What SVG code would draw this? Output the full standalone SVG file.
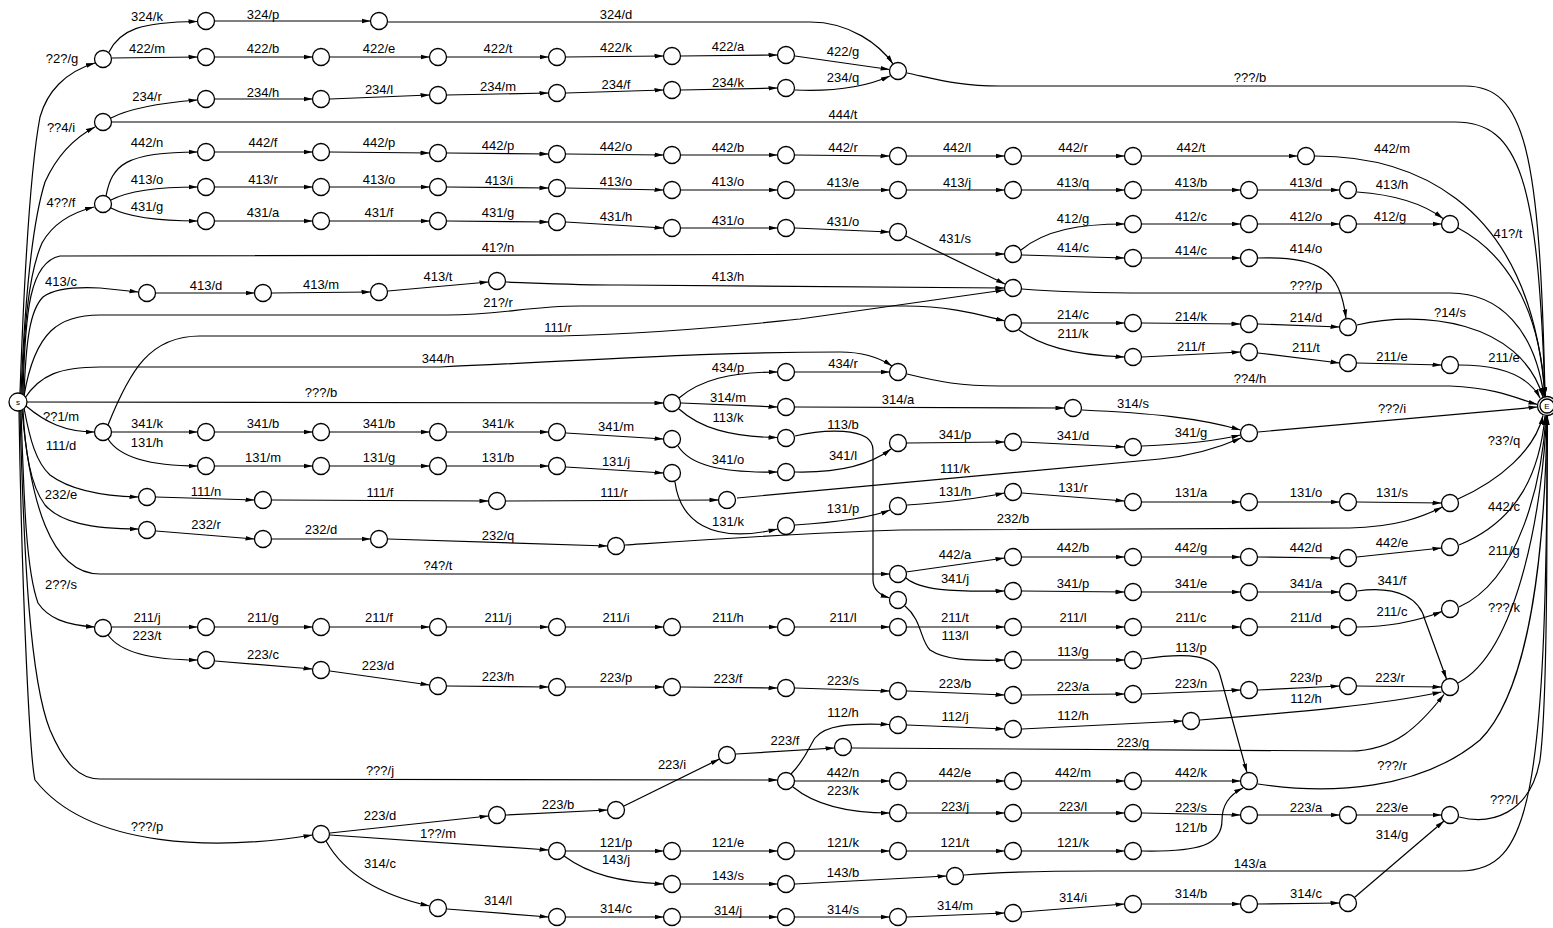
<svg xmlns="http://www.w3.org/2000/svg" width="1553" height="928" viewBox="0 0 1553 928">
<style>
.e{fill:none;stroke:#000;stroke-width:1.2;marker-end:url(#ah)}
.n{fill:#fff;stroke:#000;stroke-width:1.3}
text{font-family:"Liberation Sans",Arial,sans-serif;font-size:13px;text-anchor:middle;fill:#000}
.sm{font-size:8px}
</style>
<defs>
<marker id="ah" viewBox="0 0 9 6" refX="9" refY="3" markerWidth="9" markerHeight="6" markerUnits="userSpaceOnUse" orient="auto"><path d="M0,0.7 L9,3 L0,5.3 z" fill="#000"/></marker>
</defs>
<rect width="1553" height="928" fill="#fff"/>
<g id="connectors">
<path class="e" d="M20 393 C24 280,30 170,40 117 C47 92,65 72,95 63"/>
<path class="e" d="M21 393 C24 320,30 230,45 182 C55 160,70 140,95 127"/>
<path class="e" d="M22 394 C24 330,28 275,42 243 C52 225,70 213,94 207"/>
<path class="e" d="M23 394 C25 310,30 262,60 256 L1004.5 254"/>
<path class="e" d="M24 395 C26 340,30 310,43 297 C55 288,80 287,100 288 L138.5 292"/>
<path class="e" d="M24 396 C35 330,60 315,100 315 L447 315 C500 315,530 306,580 306 L905 306 C950 306,980 315,1005 321"/>
<path class="e" d="M108 425 C130 370,150 336,200 336 L560 336 C680 333,760 323,800 319 L1004.5 290"/>
<path class="e" d="M25 398 C40 375,60 367,100 367 L440 367 C600 360,700 352,840 352 C865 352,880 358,892 366"/>
<path class="e" d="M27 402 L663.5 403"/>
<path class="e" d="M26 406 C45 422,65 432,94.5 432"/>
<path class="e" d="M24 408 C30 440,36 462,50 475 C70 490,100 496,138.5 497"/>
<path class="e" d="M23 410 C25 450,30 485,45 505 C60 522,90 529,138.5 529"/>
<path class="e" d="M22 410 C30 500,50 574,100 574 L889.5 574"/>
<path class="e" d="M21 411 C24 500,26 570,38 603 C48 618,65 625,95 627"/>
<path class="e" d="M20 411 C24 560,30 680,50 730 C65 765,80 779,100 779 L777.5 780"/>
<path class="e" d="M19 411 C22 600,30 760,35 780 C90 850,220 850,312.5 835"/>
<path class="e" d="M907 73 C940 80,960 86,1000 86 L1465 86 C1525 86,1540 150,1545 396.5"/>
<path class="e" d="M112 122 L1455 122 C1520 122,1538 180,1545 396.5"/>
<path class="e" d="M1315 156 C1400 156,1530 190,1545 396.5"/>
<path class="e" d="M1458 228 C1500 250,1540 300,1545 396.5"/>
<path class="e" d="M1022 289 C1060 292,1100 293,1150 293 L1450 293 C1500 293,1535 330,1544 396.5"/>
<path class="e" d="M1357 325 C1420 310,1520 320,1543 397"/>
<path class="e" d="M1459 365 C1500 365,1528 375,1540 398"/>
<path class="e" d="M907 374 C940 382,960 386,1000 386 L1450 386 C1500 388,1520 400,1537.5 404.5"/>
<path class="e" d="M1258 432 L1537.5 407"/>
<path class="e" d="M1458 499 C1500 480,1535 450,1543 415.5"/>
<path class="e" d="M1459 545 C1520 520,1540 470,1545 416"/>
<path class="e" d="M1459 607 C1520 580,1542 480,1546 416"/>
<path class="e" d="M1458 683 C1520 650,1543 500,1546.5 416"/>
<path class="e" d="M1258 784 C1330 795,1420 790,1480 740 C1530 690,1545 550,1547 416"/>
<path class="e" d="M1459 817 C1490 825,1530 815,1540 760 C1548 700,1547 500,1547 416"/>
<path class="e" d="M964 875 C1000 872,1050 871,1100 871 L1460 871 C1530 871,1546 800,1547.5 416"/>
<path class="e" d="M109 52 C120 30,140 22,197.5 21.5"/>
<path class="e" d="M215 21 L370.5 21"/>
<path class="e" d="M388 22 L810 22 C850 22,880 45,893 64"/>
<path class="e" d="M112 58 L197.5 57"/>
<path class="e" d="M215 57 L312.5 57"/>
<path class="e" d="M330 57 L429.5 57"/>
<path class="e" d="M447 57 L548.5 57"/>
<path class="e" d="M566 57 L663.5 56"/>
<path class="e" d="M681 56 L777.5 55"/>
<path class="e" d="M795 56 L889.6 69.5"/>
<path class="e" d="M111 118 C130 108,160 103,197.5 100"/>
<path class="e" d="M215 99 L312.5 99"/>
<path class="e" d="M330 99 L429.5 95"/>
<path class="e" d="M447 95 L548.5 93"/>
<path class="e" d="M566 93 L663.5 90"/>
<path class="e" d="M681 90 L777.5 88"/>
<path class="e" d="M795 90 C840 92,870 85,890 76"/>
<path class="e" d="M106 196 C112 165,125 152,197.5 152"/>
<path class="e" d="M111 200 C130 190,160 187,197.5 187"/>
<path class="e" d="M111 208 C130 218,160 221,197.5 221"/>
<path class="e" d="M215 152 L312.5 152"/>
<path class="e" d="M330 152 L429.5 153"/>
<path class="e" d="M447 153 L548.5 154"/>
<path class="e" d="M566 154 L663.5 155"/>
<path class="e" d="M681 155 L777.5 155"/>
<path class="e" d="M795 155 L889.5 156"/>
<path class="e" d="M907 156 L1004.5 156"/>
<path class="e" d="M1022 156 L1124.5 156"/>
<path class="e" d="M1142 156 L1297.5 156"/>
<path class="e" d="M215 187 L312.5 187"/>
<path class="e" d="M330 187 L429.5 187"/>
<path class="e" d="M447 187 L548.5 188"/>
<path class="e" d="M566 188 L663.5 190"/>
<path class="e" d="M681 190 L777.5 190"/>
<path class="e" d="M795 190 L889.5 190"/>
<path class="e" d="M907 190 L1004.5 190"/>
<path class="e" d="M1022 190 L1124.5 190"/>
<path class="e" d="M1142 190 L1240.5 190"/>
<path class="e" d="M1258 190 L1339.5 190"/>
<path class="e" d="M1357 192 C1400 195,1425 205,1443 218.5"/>
<path class="e" d="M215 221 L312.5 221"/>
<path class="e" d="M330 221 L429.5 221"/>
<path class="e" d="M447 221 L548.5 222"/>
<path class="e" d="M566 222 L663.5 228"/>
<path class="e" d="M681 228 L777.5 228"/>
<path class="e" d="M795 228 L889.5 232"/>
<path class="e" d="M906 236 L1005 284"/>
<path class="e" d="M1021 250 C1045 230,1080 224,1124.5 224"/>
<path class="e" d="M1142 224 L1240.5 224"/>
<path class="e" d="M1258 224 L1339.5 224"/>
<path class="e" d="M1357 224 L1441.5 224"/>
<path class="e" d="M1022 255 L1124.5 258"/>
<path class="e" d="M1142 258 L1240.5 258"/>
<path class="e" d="M1258 258 C1320 256,1340 270,1346 318.5"/>
<path class="e" d="M156 293 L254.5 293"/>
<path class="e" d="M272 293 L370.5 292"/>
<path class="e" d="M388 291 L488.5 282"/>
<path class="e" d="M506 282 C560 284,580 285,620 285 L1004.5 288"/>
<path class="e" d="M1022 323 L1124.5 323"/>
<path class="e" d="M1142 323 L1240.5 324"/>
<path class="e" d="M1258 324 L1339.5 327"/>
<path class="e" d="M1019 330 C1040 345,1070 355,1124.5 357"/>
<path class="e" d="M1142 357 L1240.5 352"/>
<path class="e" d="M1258 353 L1339.5 363"/>
<path class="e" d="M1357 363 L1441.5 365"/>
<path class="e" d="M679 398 C700 380,730 372,777.5 372"/>
<path class="e" d="M795 372 L889.5 372"/>
<path class="e" d="M681 403 L777.5 407"/>
<path class="e" d="M795 407 L1064.5 408"/>
<path class="e" d="M1082 410 C1150 413,1200 418,1240.5 430"/>
<path class="e" d="M679 409 C700 428,730 437,777.5 437.5"/>
<path class="e" d="M795 436 C820 430,873 425,873 450 L873 580 C873 590,880 595,889.5 598"/>
<path class="e" d="M112 432 L197.5 432"/>
<path class="e" d="M215 432 L312.5 432"/>
<path class="e" d="M330 432 L429.5 432"/>
<path class="e" d="M447 432 L548.5 432"/>
<path class="e" d="M566 433 L663.5 439"/>
<path class="e" d="M678 446 C690 465,720 473,777.5 472"/>
<path class="e" d="M795 472 C840 473,870 465,891 449"/>
<path class="e" d="M907 443 L1004.5 442"/>
<path class="e" d="M1022 442 L1124.5 447"/>
<path class="e" d="M1142 446 C1190 444,1220 440,1240.5 435"/>
<path class="e" d="M108 439 C120 458,150 466,197.5 466"/>
<path class="e" d="M215 466 L312.5 466"/>
<path class="e" d="M330 466 L429.5 466"/>
<path class="e" d="M447 466 L548.5 466"/>
<path class="e" d="M566 467 L663.5 473"/>
<path class="e" d="M675 482 C680 520,710 545,777.5 529"/>
<path class="e" d="M795 525 C840 522,870 518,890 510"/>
<path class="e" d="M907 505 C950 502,980 498,1004.5 493"/>
<path class="e" d="M1022 493 L1124.5 501"/>
<path class="e" d="M1142 502 L1240.5 502"/>
<path class="e" d="M1258 502 L1339.5 502"/>
<path class="e" d="M1357 502 L1441.5 503"/>
<path class="e" d="M156 497 L254.5 500"/>
<path class="e" d="M272 500 L488.5 501"/>
<path class="e" d="M506 501 L718.5 500"/>
<path class="e" d="M737 498 L1160 459 C1200 455,1225 445,1241 438"/>
<path class="e" d="M156 531 L254.5 539"/>
<path class="e" d="M272 539 L370.5 539"/>
<path class="e" d="M388 539 L607.5 546"/>
<path class="e" d="M625 545 C700 540,800 533,900 530 L1350 528 C1395 527,1420 518,1442.5 507"/>
<path class="e" d="M906 572 L1004.5 558"/>
<path class="e" d="M1022 557 L1124.5 557"/>
<path class="e" d="M1142 557 L1240.5 557"/>
<path class="e" d="M1258 557 L1339.5 558"/>
<path class="e" d="M1357 557 L1441.5 548"/>
<path class="e" d="M906 578 C920 590,950 592,1004.5 591"/>
<path class="e" d="M1022 591 L1124.5 592"/>
<path class="e" d="M1142 592 L1240.5 592"/>
<path class="e" d="M1258 592 L1339.5 592"/>
<path class="e" d="M1357 591 C1400 585,1420 600,1425 620 L1446.5 679"/>
<path class="e" d="M112 627 L197.5 627"/>
<path class="e" d="M215 627 L312.5 627"/>
<path class="e" d="M330 627 L429.5 627"/>
<path class="e" d="M447 627 L548.5 627"/>
<path class="e" d="M566 627 L663.5 627"/>
<path class="e" d="M681 627 L777.5 627"/>
<path class="e" d="M795 627 L889.5 627"/>
<path class="e" d="M907 627 L1004.5 627"/>
<path class="e" d="M1022 627 L1124.5 627"/>
<path class="e" d="M1142 627 L1240.5 627"/>
<path class="e" d="M1258 627 L1339.5 627"/>
<path class="e" d="M1357 627 C1390 627,1420 620,1442 611.5"/>
<path class="e" d="M905 606 C922 620,920 640,930 650 C945 660,970 661,1004.5 660"/>
<path class="e" d="M1022 660 L1124.5 660"/>
<path class="e" d="M1142 659 C1190 652,1215 655,1220 675 L1247 772.5"/>
<path class="e" d="M108 635 C120 652,150 660,197.5 660"/>
<path class="e" d="M215 661 L312.5 669"/>
<path class="e" d="M330 671 L429.5 685"/>
<path class="e" d="M447 686 L548.5 687"/>
<path class="e" d="M566 687 L663.5 687"/>
<path class="e" d="M681 687 L777.5 688"/>
<path class="e" d="M795 688 L889.5 691"/>
<path class="e" d="M907 691 L1004.5 695"/>
<path class="e" d="M1022 695 L1124.5 694"/>
<path class="e" d="M1142 694 L1240.5 690"/>
<path class="e" d="M1258 690 L1339.5 686"/>
<path class="e" d="M1357 686 L1441.5 687"/>
<path class="e" d="M791 774 C805 760,810 745,815 738 C825 725,850 723,889.5 724.5"/>
<path class="e" d="M907 725 L1004.5 729"/>
<path class="e" d="M1022 729 L1182.5 721"/>
<path class="e" d="M1200 720 C1300 712,1380 705,1441.5 692"/>
<path class="e" d="M736 754 L834.5 748"/>
<path class="e" d="M852 748 L1350 751 C1395 751,1420 725,1444 694.5"/>
<path class="e" d="M795 781 L889.5 781"/>
<path class="e" d="M907 781 L1004.5 781"/>
<path class="e" d="M1022 781 L1124.5 781"/>
<path class="e" d="M1142 781 L1240.5 781"/>
<path class="e" d="M793 787 C815 805,850 813,889.5 813"/>
<path class="e" d="M907 813 L1004.5 813"/>
<path class="e" d="M1022 813 L1124.5 813"/>
<path class="e" d="M1142 813 L1240.5 815"/>
<path class="e" d="M1258 815 L1339.5 815"/>
<path class="e" d="M1357 815 L1441.5 815"/>
<path class="e" d="M330 833 L488.5 816"/>
<path class="e" d="M506 815 L607.5 810"/>
<path class="e" d="M624 806 L719.5 759"/>
<path class="e" d="M330 835 L548.5 850"/>
<path class="e" d="M566 851 L663.5 851"/>
<path class="e" d="M681 851 L777.5 851"/>
<path class="e" d="M795 851 L889.5 851"/>
<path class="e" d="M907 851 L1004.5 851"/>
<path class="e" d="M1022 851 L1124.5 851"/>
<path class="e" d="M1142 851 C1200 852,1222 845,1222 820 C1222 800,1235 792,1243 788"/>
<path class="e" d="M564 856 C590 875,620 882,663.5 884"/>
<path class="e" d="M681 884 L777.5 884"/>
<path class="e" d="M795 884 L946.5 876"/>
<path class="e" d="M326 841 C345 875,380 895,429.5 906"/>
<path class="e" d="M447 909 L548.5 917"/>
<path class="e" d="M566 917 L663.5 917"/>
<path class="e" d="M681 917 L777.5 917"/>
<path class="e" d="M795 917 L889.5 917"/>
<path class="e" d="M907 917 L1004.5 913"/>
<path class="e" d="M1022 912 L1124.5 904"/>
<path class="e" d="M1142 904 L1240.5 904"/>
<path class="e" d="M1258 904 L1339.5 903"/>
<path class="e" d="M1355 897 L1444 821"/>
</g>
<g id="edge-labels">
<text x="62" y="63">?2?/g</text>
<text x="147" y="21">324/k</text>
<text x="263" y="19">324/p</text>
<text x="616" y="19">324/d</text>
<text x="147" y="53">422/m</text>
<text x="263" y="53">422/b</text>
<text x="379" y="53">422/e</text>
<text x="498" y="53">422/t</text>
<text x="616" y="52">422/k</text>
<text x="728" y="51">422/a</text>
<text x="843" y="56">422/g</text>
<text x="843" y="82">234/q</text>
<text x="147" y="101">234/r</text>
<text x="263" y="97">234/h</text>
<text x="379" y="94">234/l</text>
<text x="498" y="91">234/m</text>
<text x="616" y="89">234/f</text>
<text x="728" y="87">234/k</text>
<text x="61" y="132">??4/i</text>
<text x="843" y="119">444/t</text>
<text x="1250" y="82">???/b</text>
<text x="147" y="147">442/n</text>
<text x="263" y="147">442/f</text>
<text x="379" y="147">442/p</text>
<text x="498" y="150">442/p</text>
<text x="616" y="151">442/o</text>
<text x="728" y="152">442/b</text>
<text x="843" y="152">442/r</text>
<text x="957" y="152">442/l</text>
<text x="1073" y="152">442/r</text>
<text x="1191" y="152">442/t</text>
<text x="1392" y="153">442/m</text>
<text x="61" y="207">4??/f</text>
<text x="147" y="184">413/o</text>
<text x="263" y="184">413/r</text>
<text x="379" y="184">413/o</text>
<text x="499" y="185">413/i</text>
<text x="616" y="186">413/o</text>
<text x="728" y="186">413/o</text>
<text x="843" y="187">413/e</text>
<text x="957" y="187">413/j</text>
<text x="1073" y="187">413/q</text>
<text x="1191" y="187">413/b</text>
<text x="1306" y="187">413/d</text>
<text x="1392" y="189">413/h</text>
<text x="147" y="211">431/g</text>
<text x="263" y="217">431/a</text>
<text x="379" y="217">431/f</text>
<text x="498" y="217">431/g</text>
<text x="616" y="221">431/h</text>
<text x="728" y="225">431/o</text>
<text x="843" y="226">431/o</text>
<text x="955" y="243">431/s</text>
<text x="498" y="252">41?/n</text>
<text x="1073" y="223">412/g</text>
<text x="1191" y="221">412/c</text>
<text x="1306" y="221">412/o</text>
<text x="1390" y="221">412/g</text>
<text x="1508" y="238">41?/t</text>
<text x="1073" y="252">414/c</text>
<text x="1191" y="255">414/c</text>
<text x="1306" y="253">414/o</text>
<text x="1306" y="290">???/p</text>
<text x="61" y="286">413/c</text>
<text x="206" y="290">413/d</text>
<text x="321" y="289">413/m</text>
<text x="438" y="281">413/t</text>
<text x="728" y="281">413/h</text>
<text x="498" y="307">21?/r</text>
<text x="1073" y="319">214/c</text>
<text x="1073" y="338">211/k</text>
<text x="1191" y="321">214/k</text>
<text x="1306" y="322">214/d</text>
<text x="1450" y="317">?14/s</text>
<text x="1191" y="351">211/f</text>
<text x="1306" y="352">211/t</text>
<text x="1392" y="361">211/e</text>
<text x="1504" y="362">211/e</text>
<text x="558" y="332">111/r</text>
<text x="438" y="363">344/h</text>
<text x="1250" y="383">??4/h</text>
<text x="728" y="372">434/p</text>
<text x="843" y="368">434/r</text>
<text x="321" y="397">???/b</text>
<text x="728" y="402">314/m</text>
<text x="898" y="404">314/a</text>
<text x="1133" y="408">314/s</text>
<text x="728" y="422">113/k</text>
<text x="843" y="429">113/b</text>
<text x="1392" y="413">???/i</text>
<text x="61" y="421">??1/m</text>
<text x="61" y="450">111/d</text>
<text x="147" y="428">341/k</text>
<text x="147" y="447">131/h</text>
<text x="263" y="428">341/b</text>
<text x="379" y="428">341/b</text>
<text x="498" y="428">341/k</text>
<text x="616" y="431">341/m</text>
<text x="728" y="464">341/o</text>
<text x="843" y="460">341/l</text>
<text x="955" y="439">341/p</text>
<text x="1073" y="440">341/d</text>
<text x="1191" y="437">341/g</text>
<text x="263" y="462">131/m</text>
<text x="379" y="462">131/g</text>
<text x="498" y="462">131/b</text>
<text x="616" y="466">131/j</text>
<text x="728" y="526">131/k</text>
<text x="843" y="513">131/p</text>
<text x="955" y="496">131/h</text>
<text x="1073" y="492">131/r</text>
<text x="1191" y="497">131/a</text>
<text x="1306" y="497">131/o</text>
<text x="1392" y="497">131/s</text>
<text x="1504" y="445">?3?/q</text>
<text x="206" y="496">111/n</text>
<text x="380" y="497">111/f</text>
<text x="614" y="497">111/r</text>
<text x="955" y="473">111/k</text>
<text x="61" y="499">232/e</text>
<text x="206" y="529">232/r</text>
<text x="321" y="534">232/d</text>
<text x="498" y="540">232/q</text>
<text x="1013" y="523">232/b</text>
<text x="438" y="570">?4?/t</text>
<text x="955" y="559">442/a</text>
<text x="955" y="583">341/j</text>
<text x="1073" y="552">442/b</text>
<text x="1191" y="552">442/g</text>
<text x="1306" y="552">442/d</text>
<text x="1392" y="547">442/e</text>
<text x="1504" y="511">442/c</text>
<text x="1073" y="588">341/p</text>
<text x="1191" y="588">341/e</text>
<text x="1306" y="588">341/a</text>
<text x="1392" y="585">341/f</text>
<text x="1504" y="555">211/g</text>
<text x="1392" y="616">211/c</text>
<text x="1504" y="612">???/k</text>
<text x="61" y="589">2??/s</text>
<text x="147" y="622">211/j</text>
<text x="147" y="640">223/t</text>
<text x="263" y="622">211/g</text>
<text x="379" y="622">211/f</text>
<text x="498" y="622">211/j</text>
<text x="616" y="622">211/i</text>
<text x="728" y="622">211/h</text>
<text x="843" y="622">211/l</text>
<text x="955" y="622">211/t</text>
<text x="955" y="640">113/l</text>
<text x="1073" y="622">211/l</text>
<text x="1191" y="622">211/c</text>
<text x="1306" y="622">211/d</text>
<text x="1073" y="656">113/g</text>
<text x="1191" y="652">113/p</text>
<text x="263" y="659">223/c</text>
<text x="378" y="670">223/d</text>
<text x="498" y="681">223/h</text>
<text x="616" y="682">223/p</text>
<text x="728" y="683">223/f</text>
<text x="843" y="685">223/s</text>
<text x="955" y="688">223/b</text>
<text x="1073" y="691">223/a</text>
<text x="1191" y="688">223/n</text>
<text x="1306" y="682">223/p</text>
<text x="1390" y="682">223/r</text>
<text x="843" y="717">112/h</text>
<text x="955" y="721">112/j</text>
<text x="1073" y="720">112/h</text>
<text x="1306" y="703">112/h</text>
<text x="785" y="745">223/f</text>
<text x="1133" y="747">223/g</text>
<text x="672" y="769">223/i</text>
<text x="380" y="775">???/j</text>
<text x="843" y="777">442/n</text>
<text x="843" y="795">223/k</text>
<text x="955" y="777">442/e</text>
<text x="1073" y="777">442/m</text>
<text x="1191" y="777">442/k</text>
<text x="1392" y="770">???/r</text>
<text x="558" y="809">223/b</text>
<text x="380" y="820">223/d</text>
<text x="438" y="838">1??/m</text>
<text x="380" y="868">314/c</text>
<text x="147" y="831">???/p</text>
<text x="955" y="811">223/j</text>
<text x="1073" y="811">223/l</text>
<text x="1191" y="812">223/s</text>
<text x="1306" y="812">223/a</text>
<text x="1392" y="812">223/e</text>
<text x="1504" y="804">???/l</text>
<text x="1191" y="832">121/b</text>
<text x="1392" y="839">314/g</text>
<text x="616" y="847">121/p</text>
<text x="616" y="864">143/j</text>
<text x="728" y="847">121/e</text>
<text x="843" y="847">121/k</text>
<text x="955" y="847">121/t</text>
<text x="1073" y="847">121/k</text>
<text x="728" y="880">143/s</text>
<text x="843" y="877">143/b</text>
<text x="1250" y="868">143/a</text>
<text x="498" y="905">314/l</text>
<text x="616" y="913">314/c</text>
<text x="728" y="915">314/j</text>
<text x="843" y="914">314/s</text>
<text x="955" y="910">314/m</text>
<text x="1073" y="902">314/i</text>
<text x="1191" y="898">314/b</text>
<text x="1306" y="898">314/c</text>
</g>
<g id="nodes">
<g id="node-S"><circle class="n" cx="18" cy="402" r="9"/><text class="sm" x="18" y="405">s</text></g>
<g id="node-E"><circle class="n" cx="1547" cy="406" r="9.5"/><circle class="n" cx="1547" cy="406" r="7"/><text class="sm" x="1547" y="409">E</text></g>
<g id="node-a1"><circle class="n" cx="103" cy="59" r="8.5"/></g>
<g id="node-b1"><circle class="n" cx="206" cy="21" r="8.5"/></g>
<g id="node-b2"><circle class="n" cx="379" cy="21" r="8.5"/></g>
<g id="node-c1"><circle class="n" cx="206" cy="57" r="8.5"/></g>
<g id="node-c2"><circle class="n" cx="321" cy="57" r="8.5"/></g>
<g id="node-c3"><circle class="n" cx="438" cy="57" r="8.5"/></g>
<g id="node-c4"><circle class="n" cx="557" cy="57" r="8.5"/></g>
<g id="node-c5"><circle class="n" cx="672" cy="56" r="8.5"/></g>
<g id="node-c6"><circle class="n" cx="786" cy="55" r="8.5"/></g>
<g id="node-M1"><circle class="n" cx="898" cy="71" r="8.5"/></g>
<g id="node-a2"><circle class="n" cx="103" cy="122" r="8.5"/></g>
<g id="node-d1"><circle class="n" cx="206" cy="99" r="8.5"/></g>
<g id="node-d2"><circle class="n" cx="321" cy="99" r="8.5"/></g>
<g id="node-d3"><circle class="n" cx="438" cy="95" r="8.5"/></g>
<g id="node-d4"><circle class="n" cx="557" cy="93" r="8.5"/></g>
<g id="node-d5"><circle class="n" cx="672" cy="90" r="8.5"/></g>
<g id="node-d6"><circle class="n" cx="786" cy="88" r="8.5"/></g>
<g id="node-a3"><circle class="n" cx="103" cy="204" r="8.5"/></g>
<g id="node-e1"><circle class="n" cx="206" cy="152" r="8.5"/></g>
<g id="node-e2"><circle class="n" cx="321" cy="152" r="8.5"/></g>
<g id="node-e3"><circle class="n" cx="438" cy="153" r="8.5"/></g>
<g id="node-e4"><circle class="n" cx="557" cy="154" r="8.5"/></g>
<g id="node-e5"><circle class="n" cx="672" cy="155" r="8.5"/></g>
<g id="node-e6"><circle class="n" cx="786" cy="155" r="8.5"/></g>
<g id="node-e7"><circle class="n" cx="898" cy="156" r="8.5"/></g>
<g id="node-e8"><circle class="n" cx="1013" cy="156" r="8.5"/></g>
<g id="node-e9"><circle class="n" cx="1133" cy="156" r="8.5"/></g>
<g id="node-e10"><circle class="n" cx="1306" cy="156" r="8.5"/></g>
<g id="node-f1"><circle class="n" cx="206" cy="187" r="8.5"/></g>
<g id="node-f2"><circle class="n" cx="321" cy="187" r="8.5"/></g>
<g id="node-f3"><circle class="n" cx="438" cy="187" r="8.5"/></g>
<g id="node-f4"><circle class="n" cx="557" cy="188" r="8.5"/></g>
<g id="node-f5"><circle class="n" cx="672" cy="190" r="8.5"/></g>
<g id="node-f6"><circle class="n" cx="786" cy="190" r="8.5"/></g>
<g id="node-f7"><circle class="n" cx="898" cy="190" r="8.5"/></g>
<g id="node-f8"><circle class="n" cx="1013" cy="190" r="8.5"/></g>
<g id="node-f9"><circle class="n" cx="1133" cy="190" r="8.5"/></g>
<g id="node-f10"><circle class="n" cx="1249" cy="190" r="8.5"/></g>
<g id="node-f11"><circle class="n" cx="1348" cy="190" r="8.5"/></g>
<g id="node-P"><circle class="n" cx="1450" cy="224" r="8.5"/></g>
<g id="node-g1"><circle class="n" cx="206" cy="221" r="8.5"/></g>
<g id="node-g2"><circle class="n" cx="321" cy="221" r="8.5"/></g>
<g id="node-g3"><circle class="n" cx="438" cy="221" r="8.5"/></g>
<g id="node-g4"><circle class="n" cx="557" cy="222" r="8.5"/></g>
<g id="node-g5"><circle class="n" cx="672" cy="228" r="8.5"/></g>
<g id="node-g6"><circle class="n" cx="786" cy="228" r="8.5"/></g>
<g id="node-g7"><circle class="n" cx="898" cy="232" r="8.5"/></g>
<g id="node-R"><circle class="n" cx="1013" cy="254" r="8.5"/></g>
<g id="node-h1"><circle class="n" cx="1133" cy="224" r="8.5"/></g>
<g id="node-h2"><circle class="n" cx="1249" cy="224" r="8.5"/></g>
<g id="node-h3"><circle class="n" cx="1348" cy="224" r="8.5"/></g>
<g id="node-i1"><circle class="n" cx="1133" cy="258" r="8.5"/></g>
<g id="node-i2"><circle class="n" cx="1249" cy="258" r="8.5"/></g>
<g id="node-Q"><circle class="n" cx="1013" cy="288" r="8.5"/></g>
<g id="node-j1"><circle class="n" cx="147" cy="293" r="8.5"/></g>
<g id="node-j2"><circle class="n" cx="263" cy="293" r="8.5"/></g>
<g id="node-j3"><circle class="n" cx="379" cy="292" r="8.5"/></g>
<g id="node-j4"><circle class="n" cx="497" cy="281" r="8.5"/></g>
<g id="node-U"><circle class="n" cx="1013" cy="323" r="8.5"/></g>
<g id="node-k1"><circle class="n" cx="1133" cy="323" r="8.5"/></g>
<g id="node-k2"><circle class="n" cx="1249" cy="324" r="8.5"/></g>
<g id="node-T"><circle class="n" cx="1348" cy="327" r="8.5"/></g>
<g id="node-l1"><circle class="n" cx="1133" cy="357" r="8.5"/></g>
<g id="node-l2"><circle class="n" cx="1249" cy="352" r="8.5"/></g>
<g id="node-l3"><circle class="n" cx="1348" cy="363" r="8.5"/></g>
<g id="node-l4"><circle class="n" cx="1450" cy="365" r="8.5"/></g>
<g id="node-n1"><circle class="n" cx="898" cy="372" r="8.5"/></g>
<g id="node-m2"><circle class="n" cx="786" cy="372" r="8.5"/></g>
<g id="node-V"><circle class="n" cx="672" cy="403" r="8.5"/></g>
<g id="node-o1"><circle class="n" cx="786" cy="407" r="8.5"/></g>
<g id="node-o2"><circle class="n" cx="1073" cy="408" r="8.5"/></g>
<g id="node-W"><circle class="n" cx="1249" cy="433" r="8.5"/></g>
<g id="node-p1"><circle class="n" cx="786" cy="438" r="8.5"/></g>
<g id="node-a4"><circle class="n" cx="103" cy="432" r="8.5"/></g>
<g id="node-q1"><circle class="n" cx="206" cy="432" r="8.5"/></g>
<g id="node-q2"><circle class="n" cx="321" cy="432" r="8.5"/></g>
<g id="node-q3"><circle class="n" cx="438" cy="432" r="8.5"/></g>
<g id="node-q4"><circle class="n" cx="557" cy="432" r="8.5"/></g>
<g id="node-q5"><circle class="n" cx="672" cy="439" r="8.5"/></g>
<g id="node-q6"><circle class="n" cx="786" cy="472" r="8.5"/></g>
<g id="node-q7"><circle class="n" cx="898" cy="443" r="8.5"/></g>
<g id="node-q8"><circle class="n" cx="1013" cy="442" r="8.5"/></g>
<g id="node-q9"><circle class="n" cx="1133" cy="447" r="8.5"/></g>
<g id="node-r1"><circle class="n" cx="206" cy="466" r="8.5"/></g>
<g id="node-r2"><circle class="n" cx="321" cy="466" r="8.5"/></g>
<g id="node-r3"><circle class="n" cx="438" cy="466" r="8.5"/></g>
<g id="node-r4"><circle class="n" cx="557" cy="466" r="8.5"/></g>
<g id="node-r5"><circle class="n" cx="672" cy="473" r="8.5"/></g>
<g id="node-r6"><circle class="n" cx="786" cy="526" r="8.5"/></g>
<g id="node-r7"><circle class="n" cx="898" cy="506" r="8.5"/></g>
<g id="node-r8"><circle class="n" cx="1013" cy="492" r="8.5"/></g>
<g id="node-r9"><circle class="n" cx="1133" cy="502" r="8.5"/></g>
<g id="node-r10"><circle class="n" cx="1249" cy="502" r="8.5"/></g>
<g id="node-r11"><circle class="n" cx="1348" cy="502" r="8.5"/></g>
<g id="node-X"><circle class="n" cx="1450" cy="503" r="8.5"/></g>
<g id="node-s1"><circle class="n" cx="147" cy="497" r="8.5"/></g>
<g id="node-s2"><circle class="n" cx="263" cy="500" r="8.5"/></g>
<g id="node-s3"><circle class="n" cx="497" cy="501" r="8.5"/></g>
<g id="node-s4"><circle class="n" cx="727" cy="500" r="8.5"/></g>
<g id="node-t1"><circle class="n" cx="147" cy="530" r="8.5"/></g>
<g id="node-t2"><circle class="n" cx="263" cy="539" r="8.5"/></g>
<g id="node-t3"><circle class="n" cx="379" cy="539" r="8.5"/></g>
<g id="node-t4"><circle class="n" cx="616" cy="546" r="8.5"/></g>
<g id="node-Y"><circle class="n" cx="898" cy="574" r="8.5"/></g>
<g id="node-u1"><circle class="n" cx="1013" cy="557" r="8.5"/></g>
<g id="node-u2"><circle class="n" cx="1133" cy="557" r="8.5"/></g>
<g id="node-u3"><circle class="n" cx="1249" cy="557" r="8.5"/></g>
<g id="node-u4"><circle class="n" cx="1348" cy="558" r="8.5"/></g>
<g id="node-u5"><circle class="n" cx="1450" cy="547" r="8.5"/></g>
<g id="node-v1"><circle class="n" cx="1013" cy="591" r="8.5"/></g>
<g id="node-v2"><circle class="n" cx="1133" cy="592" r="8.5"/></g>
<g id="node-v3"><circle class="n" cx="1249" cy="592" r="8.5"/></g>
<g id="node-v4"><circle class="n" cx="1348" cy="592" r="8.5"/></g>
<g id="node-w1"><circle class="n" cx="898" cy="600" r="8.5"/></g>
<g id="node-a5"><circle class="n" cx="103" cy="628" r="8.5"/></g>
<g id="node-x1"><circle class="n" cx="206" cy="627" r="8.5"/></g>
<g id="node-x2"><circle class="n" cx="321" cy="627" r="8.5"/></g>
<g id="node-x3"><circle class="n" cx="438" cy="627" r="8.5"/></g>
<g id="node-x4"><circle class="n" cx="557" cy="627" r="8.5"/></g>
<g id="node-x5"><circle class="n" cx="672" cy="627" r="8.5"/></g>
<g id="node-x6"><circle class="n" cx="786" cy="627" r="8.5"/></g>
<g id="node-x7"><circle class="n" cx="898" cy="627" r="8.5"/></g>
<g id="node-x8"><circle class="n" cx="1013" cy="627" r="8.5"/></g>
<g id="node-x9"><circle class="n" cx="1133" cy="627" r="8.5"/></g>
<g id="node-x10"><circle class="n" cx="1249" cy="627" r="8.5"/></g>
<g id="node-x11"><circle class="n" cx="1348" cy="627" r="8.5"/></g>
<g id="node-x12"><circle class="n" cx="1450" cy="609" r="8.5"/></g>
<g id="node-y1"><circle class="n" cx="1013" cy="660" r="8.5"/></g>
<g id="node-y2"><circle class="n" cx="1133" cy="660" r="8.5"/></g>
<g id="node-z1"><circle class="n" cx="206" cy="660" r="8.5"/></g>
<g id="node-z2"><circle class="n" cx="321" cy="670" r="8.5"/></g>
<g id="node-z3"><circle class="n" cx="438" cy="686" r="8.5"/></g>
<g id="node-z4"><circle class="n" cx="557" cy="687" r="8.5"/></g>
<g id="node-z5"><circle class="n" cx="672" cy="687" r="8.5"/></g>
<g id="node-z6"><circle class="n" cx="786" cy="688" r="8.5"/></g>
<g id="node-z7"><circle class="n" cx="898" cy="691" r="8.5"/></g>
<g id="node-z8"><circle class="n" cx="1013" cy="695" r="8.5"/></g>
<g id="node-z9"><circle class="n" cx="1133" cy="694" r="8.5"/></g>
<g id="node-z10"><circle class="n" cx="1249" cy="690" r="8.5"/></g>
<g id="node-z11"><circle class="n" cx="1348" cy="686" r="8.5"/></g>
<g id="node-Z"><circle class="n" cx="1450" cy="687" r="8.5"/></g>
<g id="node-AB"><circle class="n" cx="786" cy="781" r="8.5"/></g>
<g id="node-aa1"><circle class="n" cx="898" cy="725" r="8.5"/></g>
<g id="node-aa2"><circle class="n" cx="1013" cy="729" r="8.5"/></g>
<g id="node-aa3"><circle class="n" cx="1191" cy="721" r="8.5"/></g>
<g id="node-bb"><circle class="n" cx="843" cy="747" r="8.5"/></g>
<g id="node-cc"><circle class="n" cx="727" cy="755" r="8.5"/></g>
<g id="node-dd1"><circle class="n" cx="898" cy="781" r="8.5"/></g>
<g id="node-dd2"><circle class="n" cx="1013" cy="781" r="8.5"/></g>
<g id="node-dd3"><circle class="n" cx="1133" cy="781" r="8.5"/></g>
<g id="node-AA"><circle class="n" cx="1249" cy="781" r="8.5"/></g>
<g id="node-ee1"><circle class="n" cx="898" cy="813" r="8.5"/></g>
<g id="node-ee2"><circle class="n" cx="1013" cy="813" r="8.5"/></g>
<g id="node-ee3"><circle class="n" cx="1133" cy="813" r="8.5"/></g>
<g id="node-ee4"><circle class="n" cx="1249" cy="815" r="8.5"/></g>
<g id="node-ee5"><circle class="n" cx="1348" cy="815" r="8.5"/></g>
<g id="node-AC"><circle class="n" cx="1450" cy="815" r="8.5"/></g>
<g id="node-AD"><circle class="n" cx="321" cy="834" r="8.5"/></g>
<g id="node-ff1"><circle class="n" cx="497" cy="815" r="8.5"/></g>
<g id="node-ff2"><circle class="n" cx="616" cy="810" r="8.5"/></g>
<g id="node-gg1"><circle class="n" cx="557" cy="851" r="8.5"/></g>
<g id="node-gg2"><circle class="n" cx="672" cy="851" r="8.5"/></g>
<g id="node-gg3"><circle class="n" cx="786" cy="851" r="8.5"/></g>
<g id="node-gg4"><circle class="n" cx="898" cy="851" r="8.5"/></g>
<g id="node-gg5"><circle class="n" cx="1013" cy="851" r="8.5"/></g>
<g id="node-gg6"><circle class="n" cx="1133" cy="851" r="8.5"/></g>
<g id="node-hh1"><circle class="n" cx="672" cy="884" r="8.5"/></g>
<g id="node-hh2"><circle class="n" cx="786" cy="884" r="8.5"/></g>
<g id="node-hh3"><circle class="n" cx="955" cy="876" r="8.5"/></g>
<g id="node-ii1"><circle class="n" cx="438" cy="908" r="8.5"/></g>
<g id="node-ii2"><circle class="n" cx="557" cy="917" r="8.5"/></g>
<g id="node-ii3"><circle class="n" cx="672" cy="917" r="8.5"/></g>
<g id="node-ii4"><circle class="n" cx="786" cy="917" r="8.5"/></g>
<g id="node-ii5"><circle class="n" cx="898" cy="917" r="8.5"/></g>
<g id="node-ii6"><circle class="n" cx="1013" cy="913" r="8.5"/></g>
<g id="node-ii7"><circle class="n" cx="1133" cy="904" r="8.5"/></g>
<g id="node-ii8"><circle class="n" cx="1249" cy="904" r="8.5"/></g>
<g id="node-ii9"><circle class="n" cx="1348" cy="903" r="8.5"/></g>
</g>
</svg>
